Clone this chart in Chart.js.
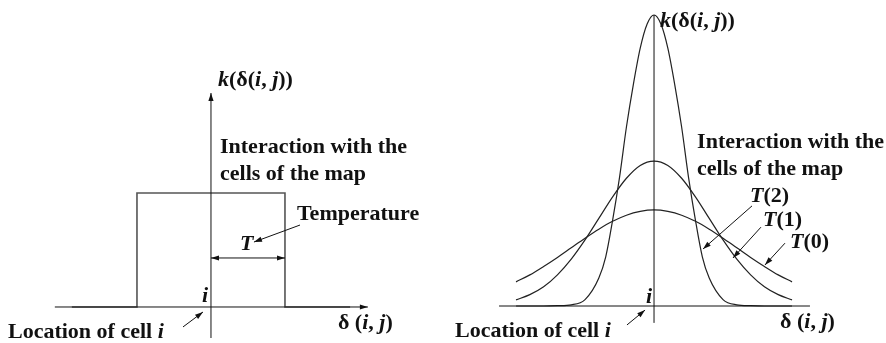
<!DOCTYPE html>
<html>
<head>
<meta charset="utf-8">
<script src="https://cdn.jsdelivr.net/npm/chart.js@4/dist/chart.umd.min.js"></script>
<style>
  body { margin: 0; background: #fff; }
  canvas { position: absolute; top: 0; }
</style>
</head>
<body>
<canvas id="boxKernel" width="440" height="343" style="left:0"></canvas>
<canvas id="gaussKernel" width="446" height="343" style="left:440px"></canvas>
<script>
// 矩形カーネル（温度 T が幅）
const stepX = [-1.88, -1, -1, 1, 1, 1.88];
const stepK = [0, 0, 1, 1, 0, 0];

// ガウスカーネル T(0), T(1) の形
const wideX = [-1, -0.9, -0.8, -0.7, -0.6, -0.5, -0.4, -0.3, -0.2, -0.1, 0,
               0.1, 0.2, 0.3, 0.4, 0.5, 0.6, 0.7, 0.8, 0.9, 1];
const kT0 = [0.083, 0.107, 0.136, 0.167, 0.200, 0.233, 0.264, 0.291, 0.312, 0.325, 0.330,
             0.325, 0.312, 0.291, 0.264, 0.233, 0.200, 0.167, 0.136, 0.107, 0.083];
const kT1 = [0.021, 0.039, 0.066, 0.107, 0.161, 0.227, 0.301, 0.375, 0.439, 0.483, 0.498,
             0.483, 0.439, 0.375, 0.301, 0.227, 0.161, 0.107, 0.066, 0.039, 0.021];

// T(2) は鋭いので細かく
const narrowX = [-1, -0.8, -0.7, -0.6, -0.5, -0.4, -0.35, -0.3, -0.25, -0.2, -0.15, -0.1, -0.05, 0,
                 0.05, 0.1, 0.15, 0.2, 0.25, 0.3, 0.35, 0.4, 0.5, 0.6, 0.7, 0.8, 1];
const kT2 = [0, 0, 0.001, 0.004, 0.022, 0.096, 0.169, 0.295, 0.442, 0.615, 0.761, 0.886, 0.969, 1,
             0.969, 0.886, 0.761, 0.615, 0.442, 0.295, 0.169, 0.096, 0.022, 0.004, 0.001, 0, 0];

const seriesNames = ['T(0)', 'T(1)', 'T(2)'];

const FONT = '"Liberation Serif", "Times New Roman", serif';

function toPoints(xs, ys) {
    return xs.map((x, i) => ({ x: x, y: ys[i] }));
}

function arrowHead(ctx, x0, y0, x1, y1) {
    const a = Math.atan2(y1 - y0, x1 - x0);
    const len = 8, w = 2.6;
    ctx.beginPath();
    ctx.moveTo(x1, y1);
    ctx.lineTo(x1 - len * Math.cos(a) + w * Math.sin(a), y1 - len * Math.sin(a) - w * Math.cos(a));
    ctx.lineTo(x1 - len * Math.cos(a) - w * Math.sin(a), y1 - len * Math.sin(a) + w * Math.cos(a));
    ctx.closePath();
    ctx.fill();
}

// 軸・矢印・文字を描くプラグイン
const annotate = {
    id: 'annotate',
    afterDatasetsDraw(chart, args, opts) {
        const ctx = chart.ctx;
        const px = u => chart.scales.x.getPixelForValue(u);
        const py = v => chart.scales.y.getPixelForValue(v);
        ctx.save();
        ctx.strokeStyle = '#111';
        ctx.fillStyle = '#111';
        ctx.lineWidth = 1;

        (opts.lines || []).forEach(l => {
            const x0 = px(l.from[0]), y0 = py(l.from[1]);
            const x1 = px(l.to[0]), y1 = py(l.to[1]);
            ctx.beginPath();
            ctx.moveTo(x0, y0);
            ctx.lineTo(x1, y1);
            ctx.stroke();
            if (l.head) arrowHead(ctx, x0, y0, x1, y1);
            if (l.tail) arrowHead(ctx, x1, y1, x0, y0);
        });

        ctx.textBaseline = 'alphabetic';
        (opts.texts || []).forEach(t => {
            let x = px(t.at[0]);
            const y = py(t.at[1]);
            t.parts.forEach(([s, italic]) => {
                ctx.font = (italic ? 'italic ' : '') + 'bold 22px ' + FONT;
                ctx.fillText(s, x, y);
                x += ctx.measureText(s).width;
            });
        });
        ctx.restore();
    }
};

const kLabel = [['k', true], ['(δ(', false], ['i', true], [', ', false], ['j', true], ['))', false]];
const deltaLabel = [['δ (', false], ['i', true], [', ', false], ['j', true], [')', false]];
const cellLabel = [['Location of cell ', false], ['i', true]];

function baseOptions(xr, yr, annot) {
    return {
        responsive: false,
        animation: false,
        events: [],
        layout: { padding: 0 },
        scales: {
            x: { type: 'linear', display: false, min: xr[0], max: xr[1] },
            y: { type: 'linear', display: false, min: yr[0], max: yr[1] }
        },
        plugins: {
            legend: { display: false },
            tooltip: { enabled: false },
            annotate: annot
        }
    };
}

new Chart(document.getElementById('boxKernel'), {
    type: 'scatter',
    data: {
        datasets: [{
            label: 'T',
            data: toPoints(stepX, stepK),
            showLine: true,
            borderColor: '#555',
            borderWidth: 1.6,
            pointRadius: 0
        }]
    },
    plugins: [annotate],
    options: baseOptions([-2.851, 3.095], [-0.3158, 2.693], {
        lines: [
            { from: [-2.11, 0], to: [2.12, 0], head: true },
            { from: [0, -0.272], to: [0, 1.877], head: true },
            { from: [0, 0.43], to: [1, 0.43], head: true, tail: true },
            { from: [1.203, 0.719], to: [0.581, 0.570], head: true },
            { from: [-0.378, -0.175], to: [-0.108, -0.044], head: true }
        ],
        texts: [
            { at: [0.095, 1.939], parts: kLabel },
            { at: [0.122, 1.351], parts: [['Interaction with the', false]] },
            { at: [0.122, 1.114], parts: [['cells of the map', false]] },
            { at: [1.162, 0.763], parts: [['Temperature', false]] },
            { at: [0.392, 0.5], parts: [['T', true]] },
            { at: [-0.122, 0.044], parts: [['i', true]] },
            { at: [-2.743, -0.272], parts: cellLabel },
            { at: [1.716, -0.193], parts: deltaLabel }
        ]
    })
});

new Chart(document.getElementById('gaussKernel'), {
    type: 'scatter',
    data: {
        datasets: [
            { label: seriesNames[0], data: toPoints(wideX, kT0) },
            { label: seriesNames[1], data: toPoints(wideX, kT1) },
            { label: seriesNames[2], data: toPoints(narrowX, kT2) }
        ].map(d => Object.assign(d, {
            showLine: true,
            borderColor: '#222',
            borderWidth: 1.2,
            pointRadius: 0,
            cubicInterpolationMode: 'monotone'
        }))
    },
    plugins: [annotate],
    options: baseOptions([-1.551, 1.681], [-0.1271, 1.0515], {
        lines: [
            { from: [-1.123, 0], to: [1.130, 0] },
            { from: [0, -0.058], to: [0, 1.0] },
            { from: [0.710, 0.344], to: [0.355, 0.196], head: true },
            { from: [0.775, 0.271], to: [0.572, 0.165], head: true },
            { from: [0.949, 0.216], to: [0.804, 0.141], head: true },
            { from: [-0.196, -0.065], to: [-0.065, -0.014], head: true }
        ],
        texts: [
            { at: [0.043, 0.959], parts: kLabel },
            { at: [0.312, 0.543], parts: [['Interaction with the', false]] },
            { at: [0.312, 0.450], parts: [['cells of the map', false]] },
            { at: [0.696, 0.357], parts: [['T', true], ['(2)', false]] },
            { at: [0.790, 0.275], parts: [['T', true], ['(1)', false]] },
            { at: [0.986, 0.199], parts: [['T', true], ['(0)', false]] },
            { at: [-0.058, 0.010], parts: [['i', true]] },
            { at: [-1.442, -0.107], parts: cellLabel },
            { at: [0.913, -0.076], parts: deltaLabel }
        ]
    })
});
</script>
</body>
</html>
